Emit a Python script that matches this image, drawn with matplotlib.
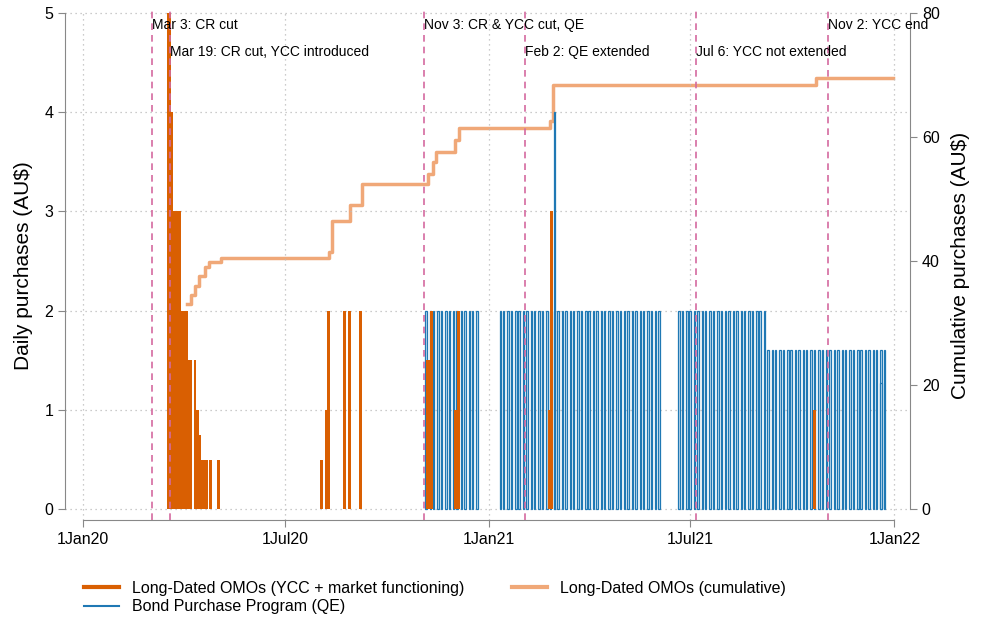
import numpy as np
import pandas as pd
import matplotlib.pyplot as plt
import matplotlib.dates as mdates
from matplotlib.lines import Line2D

plt.rcParams['font.family'] = ['Liberation Sans', 'DejaVu Sans']

# long-dated OMOs (daily, AU$ bn)
omo_dates = ["2020-03-18", "2020-03-19", "2020-03-20", "2020-03-21", "2020-03-23", "2020-03-24",
             "2020-03-25", "2020-03-26", "2020-03-27", "2020-03-28", "2020-03-30", "2020-03-31",
             "2020-04-01", "2020-04-02", "2020-04-03", "2020-04-04",
             "2020-04-07", "2020-04-11", "2020-04-12", "2020-04-13", "2020-04-15", "2020-04-17",
             "2020-04-18", "2020-04-20", "2020-04-21", "2020-04-25", "2020-05-02",
             "2020-08-03", "2020-08-07", "2020-08-09", "2020-08-24", "2020-08-28", "2020-09-07",
             "2020-11-06", "2020-11-09", "2020-11-10", "2020-12-02", "2020-12-04",
             "2021-02-24", "2021-02-26", "2021-10-21"]
omo_vals = [5, 5, 4, 4, 3, 3,
            3, 3, 3, 3, 2, 2,
            2, 2, 2, 1.5,
            1.5, 1.5, 1.0, 1.0, 0.75, 0.5,
            0.5, 0.5, 0.5, 0.5, 0.5,
            0.5, 1.0, 2, 2, 2, 2,
            1.5, 1.5, 2, 1.0, 2,
            1.0, 3, 1.0]

# cumulative OMOs (steps)
cum_dates = ["2020-04-04", "2020-04-07", "2020-04-11", "2020-04-15", "2020-04-20", "2020-04-24",
             "2020-05-04", "2020-08-07", "2020-08-10", "2020-08-12", "2020-08-26", "2020-08-29",
             "2020-09-08", "2020-11-04", "2020-11-07", "2020-11-11", "2020-11-14", "2020-11-28",
             "2020-12-01", "2020-12-05", "2021-02-22", "2021-02-25", "2021-02-27", "2021-10-20",
             "2021-10-22", "2021-12-31"]
cum_vals = [33, 34.5, 36, 37.5, 39, 39.8,
            40.5, 40.5, 41.5, 46.4, 46.4, 49,
            52.4, 52.4, 54, 56, 57.6, 57.6,
            59.5, 61.4, 61.4, 62.5, 68.4, 68.4,
            69.5, 69.5]

# bond purchase program: purchase periods (start, end, amount)
qe_periods = [("2020-11-05", "2020-12-22", 2.0),
              ("2021-01-11", "2021-06-04", 2.0),
              ("2021-06-21", "2021-09-06", 2.0),
              ("2021-09-07", "2021-12-23", 1.6)]
qe_extra_dates = ["2021-03-01", "2021-12-20"]
qe_extra_vals = [4.0, 1.27]

events = ["2020-03-03", "2020-03-19", "2020-11-03", "2021-02-02", "2021-07-06", "2021-11-02"]
event_labels = ["Mar 3: CR cut", "Mar 19: CR cut, YCC introduced", "Nov 3: CR & YCC cut, QE",
                "Feb 2: QE extended", "Jul 6: YCC not extended", "Nov 2: YCC end"]
event_y = [4.88, 4.6, 4.88, 4.6, 4.6, 4.88]

qe_d, qe_v = [], []
for s, e, v in qe_periods:
    d = pd.date_range(s, e, freq="W-MON").append(pd.date_range(s, e, freq="W-THU")).sort_values()
    qe_d += list(d)
    qe_v += [v] * len(d)
qe_d += list(pd.to_datetime(qe_extra_dates))
qe_v += qe_extra_vals

fig = plt.figure(figsize=(9.87, 6.35), dpi=100)
ax = fig.add_axes([0.066, 0.181, 0.856, 0.802])
ax2 = ax.twinx()

blue = "#1f78b4"
orange = "#d95f02"
peach = "#f0a878"
gray = "#888888"

ax.bar(qe_d, qe_v, width=1.3, color="#cfe3f3", edgecolor=blue, linewidth=0.9,
       label="Bond Purchase Program (QE)", zorder=2)
ax.bar(pd.to_datetime(omo_dates), omo_vals, width=2.6, color=orange, linewidth=0,
       label="Long-Dated OMOs (YCC + market functioning)", zorder=3)
ax2.step(pd.to_datetime(cum_dates), cum_vals, where="post", color=peach, lw=2.5,
         label="Long-Dated OMOs (cumulative)")

for d, lab, y in zip(events, event_labels, event_y):
    dd = pd.Timestamp(d)
    ax.axvline(dd, color="#d46aa0", ls=(0, (4, 3)), lw=1.2, zorder=4)
    ax.text(dd, y, lab, fontsize=10, va="center", ha="left", zorder=5)

x0 = pd.Timestamp("2020-01-01")
x1 = pd.Timestamp("2022-01-01")
ax.set_xlim(x0 - pd.Timedelta(days=16), x1 + pd.Timedelta(days=14))
ax.set_ylim(-0.11, 5.02)
ax2.set_ylim(-0.11 * 16, 5.02 * 16)
ax.set_xticks(pd.to_datetime(["2020-01-01", "2020-07-01", "2021-01-01", "2021-07-01", "2022-01-01"]))
ax.set_xticklabels(["1Jan20", "1Jul20", "1Jan21", "1Jul21", "1Jan22"])
ax.set_yticks(range(6))
ax2.set_yticks([0, 20, 40, 60, 80])
ax.grid(True, color="#bbbbbb", ls=(0, (1, 3)), lw=0.9)

for a in (ax, ax2):
    a.spines["top"].set_visible(False)
    for s in ("left", "right", "bottom"):
        a.spines[s].set_color(gray)
    a.tick_params(colors="black", labelsize=11.5, length=5)
    a.tick_params(axis="both", color=gray)
ax.spines["right"].set_visible(False)
ax2.spines["left"].set_visible(False)
ax2.spines["bottom"].set_visible(False)
ax.spines["bottom"].set_bounds(mdates.date2num(x0), mdates.date2num(x1))
ax.spines["left"].set_bounds(0, 5)
ax2.spines["right"].set_bounds(0, 80)
ax.set_ylabel("Daily purchases (AU$)", fontsize=15, labelpad=8)
ax2.set_ylabel("Cumulative purchases (AU$)", fontsize=15, labelpad=8)
ax.set_zorder(ax2.get_zorder() + 1)
ax.patch.set_visible(False)

h1, l1 = ax.get_legend_handles_labels()
h2, l2 = ax2.get_legend_handles_labels()
hs = [Line2D([], [], color=orange, lw=3), Line2D([], [], color=blue, lw=1.5),
      Line2D([], [], color=peach, lw=3)]
ls = [l1[1], l1[0], l2[0]]
fig.legend(hs, ls, ncol=2, loc="upper left", bbox_to_anchor=(0.085, 0.085), frameon=False,
           fontsize=11.5, handlelength=2.2, columnspacing=3, labelspacing=0.2,
           borderaxespad=0, borderpad=0)

fig.savefig("out.png", dpi=100)
